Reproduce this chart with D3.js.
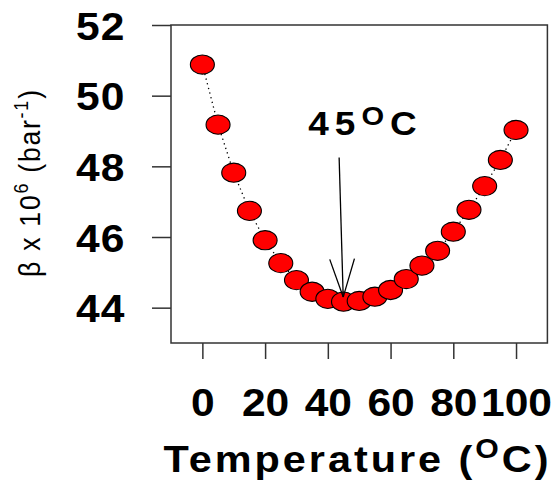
<!DOCTYPE html>
<html>
<head>
<meta charset="utf-8">
<script src="https://cdn.jsdelivr.net/npm/d3@7"></script>
<style>
  html, body { margin: 0; padding: 0; background: #fff; }
  svg { display: block; }
  text { font-family: "Liberation Sans", Arial, Helvetica, sans-serif; fill: #000; }
</style>
</head>
<body>
<svg id="chart" width="557" height="492"></svg>
<script>
// Isothermal compressibility vs temperature, sampled every 5 °C
const temperatures = [0, 5, 10, 15, 20, 25, 30, 35, 40, 45, 50, 55, 60, 65, 70, 75, 80, 85, 90, 95, 100];
const beta = [50.88, 49.18, 47.82, 46.74, 45.91, 45.26, 44.78, 44.45, 44.25, 44.17, 44.19,
              44.31, 44.50, 44.81, 45.19, 45.61, 46.15, 46.77, 47.44, 48.18, 49.03];
const xTicks = [0, 20, 40, 60, 80, 100];
const yTicks = [44, 46, 48, 50, 52];
const minimumTemp = 45;

// text is drawn slightly wide
const wide = 1.12;

const svg = d3.select("#chart");

// Plot region spans -10..110 °C horizontally and 43..52 vertically
const x = d3.scaleLinear().domain([-10, 110]).range([171, 547.4]);
const y = d3.scaleLinear().domain([43, 52]).range([343, 25]);

// frame
svg.append("rect")
  .attr("x", x(-10)).attr("y", y(52))
  .attr("width", x(110) - x(-10)).attr("height", y(43) - y(52))
  .attr("fill", "none").attr("stroke", "#333").attr("stroke-width", 1.5);

// y axis
const yAxis = svg.append("g")
  .attr("transform", `translate(${x(-10)},0)`)
  .call(d3.axisLeft(y).tickValues(yTicks).tickSize(19).tickFormat(""));
yAxis.select(".domain").remove();
yAxis.selectAll(".tick line").attr("stroke", "#333").attr("stroke-width", 1.5);

yAxis.selectAll(".tick").append("text")
  .attr("transform", `translate(-45.5,14) scale(${wide},1)`)
  .attr("text-anchor", "end")
  .attr("font-size", 38).attr("font-weight", "bold")
  .attr("letter-spacing", 1)
  .style("fill", "#000")
  .text(d => d);

// x axis: ticks hang below the frame
const xAxis = svg.append("g")
  .attr("transform", `translate(0,${y(43)})`)
  .call(d3.axisBottom(x).tickValues(xTicks).tickSize(16).tickFormat(""));
xAxis.select(".domain").remove();
xAxis.selectAll(".tick line").attr("stroke", "#333").attr("stroke-width", 1.5);

xAxis.selectAll(".tick").append("text")
  .attr("transform", `translate(0,73) scale(${wide},1)`)
  .attr("text-anchor", "middle")
  .attr("font-size", 38).attr("font-weight", "bold")
  .style("fill", "#000")
  .text(d => d);

// dotted connecting line
const line = d3.line()
  .x((d, i) => x(temperatures[i]))
  .y(d => y(d));
svg.append("path")
  .datum(beta)
  .attr("d", line)
  .attr("fill", "none")
  .attr("stroke", "#000")
  .attr("stroke-width", 1.3)
  .attr("stroke-dasharray", "1.3,3.5");

// markers
svg.append("g").selectAll("ellipse")
  .data(beta)
  .join("ellipse")
  .attr("cx", (d, i) => x(temperatures[i]))
  .attr("cy", d => y(d))
  .attr("rx", 12).attr("ry", 9.6)
  .attr("fill", "#ff0000")
  .attr("stroke", "#000")
  .attr("stroke-width", 1.1);

// arrow pointing at the minimum
const x0 = x(minimumTemp - 1.4), y0 = y(48.25);
const x1 = x(minimumTemp - 0.1), y1 = y(44.3);
const ang = Math.atan2(y1 - y0, x1 - x0);
const headLen = 40, headAng = 18 * Math.PI / 180;
const arrow = svg.append("g").attr("stroke", "#000").attr("stroke-width", 1.3).attr("fill", "none");
arrow.append("line").attr("x1", x0).attr("y1", y0).attr("x2", x1).attr("y2", y1);
[-headAng, headAng].forEach(a => {
  arrow.append("line")
    .attr("x1", x1).attr("y1", y1)
    .attr("x2", x1 - headLen * Math.cos(ang + a))
    .attr("y2", y1 - headLen * Math.sin(ang + a));
});

// annotation "45 °C"
const note = svg.append("text")
  .attr("transform", `translate(308.3,135) scale(${wide},1)`)
  .attr("font-size", 33).attr("font-weight", "bold")
  .attr("textLength", 108.4 / wide).attr("lengthAdjust", "spacing");
note.append("tspan").text(String(minimumTemp));
note.append("tspan").attr("font-size", 26).attr("dy", -10).text("O");
note.append("tspan").attr("dy", 10).text("C");

// x axis title
const xt = svg.append("text")
  .attr("transform", `translate(163.5,472) scale(${wide},1)`)
  .attr("font-size", 37).attr("font-weight", "bold")
  .attr("textLength", 385 / wide).attr("lengthAdjust", "spacing");
xt.append("tspan").text("Temperature (");
xt.append("tspan").attr("font-size", 27).attr("dy", -14).text("O");
xt.append("tspan").attr("dy", 14).text("C)");

// y axis title (rotated)
const yt = svg.append("text")
  .attr("transform", `translate(40,183.5) scale(${wide},1) rotate(-90)`)
  .attr("text-anchor", "middle")
  .attr("font-size", 26.5)
  .attr("textLength", 187).attr("lengthAdjust", "spacing");
yt.append("tspan").text("\u03b2 x 10");
yt.append("tspan").attr("font-size", 18).attr("dy", -11).text("6");
yt.append("tspan").attr("dy", 11).text(" (bar");
yt.append("tspan").attr("font-size", 18).attr("dy", -11).text("-1");
yt.append("tspan").attr("dy", 11).text(")");
</script>
</body>
</html>
